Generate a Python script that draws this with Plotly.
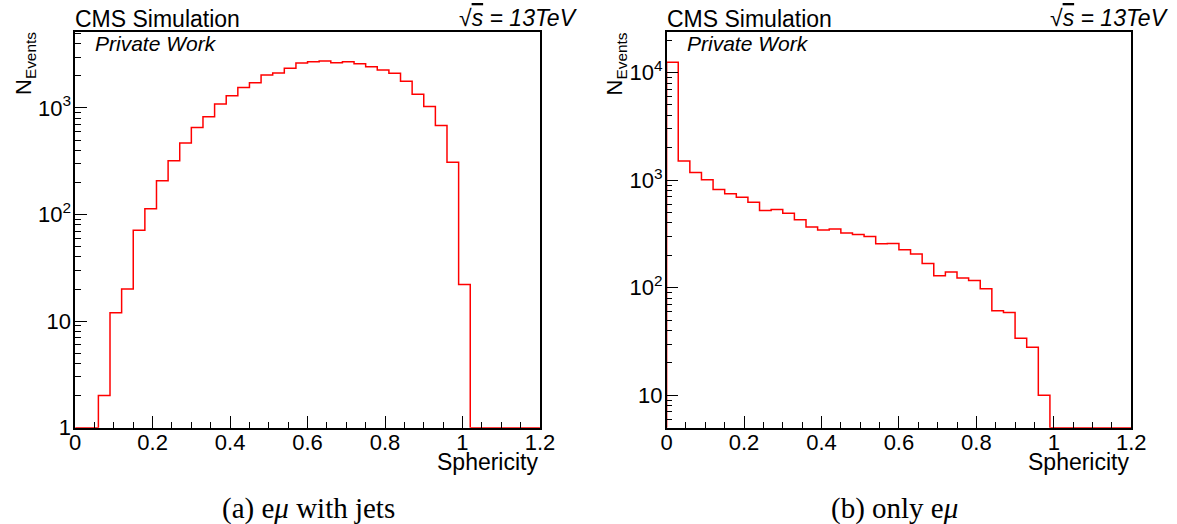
import math
import plotly.graph_objects as go

W, H = 1177, 524          # reference pixel space used for placing things
FIG_W, FIG_H = 1192, 537  # figure size (rendering is scaled to the 1177x524 picture)

# ---- data -------------------------------------------------------------
n_bins = 40
bin_width = 0.03
bin_edges = [round(i * bin_width, 2) for i in range(n_bins + 1)]

# (a) e mu with jets
counts_with_jets = [0, 0, 2, 12, 20, 71, 113, 207, 319, 468,
                    656, 827, 1086, 1302, 1557, 1722, 2031, 2122, 2349, 2636,
                    2716, 2754, 2656, 2716, 2600, 2438, 2265, 2109, 1774, 1340,
                    1033, 685, 310, 22, 0, 0, 0, 0, 0, 0]
# (b) only e mu
counts_only_emu = [12470, 1510, 1177, 1007, 818, 746, 695, 625, 522, 534,
                   494, 428, 368, 345, 351, 322, 313, 299, 256, 258,
                   225, 206, 168, 129, 140, 123, 117, 98, 61, 59,
                   34, 28, 10, 0, 0, 0, 0, 0, 0, 0]

x_tick_vals = [0, 0.2, 0.4, 0.6, 0.8, 1.0, 1.2]
x_tick_text = ["0", "0.2", "0.4", "0.6", "0.8", "1", "1.2"]
y_tick_vals_a = [1, 10, 100, 1000]
y_tick_text_a = ["1", "10", "10<sup>2</sup>", "10<sup>3</sup>"]
y_tick_vals_b = [10, 100, 1000, 10000]
y_tick_text_b = ["10", "10<sup>2</sup>", "10<sup>3</sup>", "10<sup>4</sup>"]

y_min_a, y_max_a = 1.0, 5120.0
y_min_b, y_max_b = 5.0, 23700.0

x_title = "Sphericity"
y_title = "N<sub>Events</sub>"
captions = ["(a) e<i>μ</i> with jets", "(b) only e<i>μ</i>"]

# ---- helpers ---------------------------------------------------------
SANS = "Liberation Sans, Arial, Helvetica, sans-serif"
SERIF = "Liberation Serif, Times New Roman, serif"


def px(x):
    return x / W


def py(y):
    return 1 - y / H


def step_xy(counts, floor):
    ys = [c if c > 0 else floor for c in counts]
    xs = [0.0] + bin_edges
    ys = [floor] + ys + [ys[-1]]
    return xs, ys


def minor_x():
    vals = []
    for i in range(int(round(1.2 / 0.05)) + 1):
        v = round(i * 0.05, 2)
        if abs(v / 0.2 - round(v / 0.2)) > 1e-6:
            vals.append(v)
    return vals


def minor_log(lo, hi):
    vals = []
    d = 10 ** math.floor(math.log10(lo))
    while d < hi:
        for k in range(2, 10):
            v = k * d
            if lo <= v <= hi:
                vals.append(v)
        d *= 10
    return vals


frames = {
    "a": dict(x0=69.5, x1=536.7),
    "b": dict(x0=664.0, x1=1131.0),
}
y_top, y_bot = 32.3, 427.7

fig = go.Figure()

xa, ya = step_xy(counts_with_jets, y_min_a)
xb, yb = step_xy(counts_only_emu, y_min_b)

fig.add_trace(go.Scatter(x=xa, y=ya, mode="lines", line=dict(color="#ff0000", width=1.5, shape="hv"),
                         xaxis="x", yaxis="y", showlegend=False, hoverinfo="skip"))
fig.add_trace(go.Scatter(x=xb, y=yb, mode="lines", line=dict(color="#ff0000", width=1.5, shape="hv"),
                         xaxis="x2", yaxis="y2", showlegend=False, hoverinfo="skip"))

TICK_FS = 22


def xaxis_cfg(frame, anchor):
    return dict(
        domain=[px(frame["x0"]), px(frame["x1"])], anchor=anchor, range=[0, 1.2],
        tickmode="array", tickvals=x_tick_vals, ticktext=x_tick_text,
        ticks="inside", ticklen=12, tickwidth=1, tickcolor="black",
        minor=dict(tickmode="array", tickvals=minor_x(), ticks="inside", ticklen=6,
                   tickwidth=1, tickcolor="black", showgrid=False),
        showline=True, linecolor="black", linewidth=1.5, mirror=True,
        showgrid=False, zeroline=False, ticklabelstandoff=-6,
        tickfont=dict(family=SANS, size=TICK_FS, color="black"),
    )


def yaxis_cfg(anchor, lo, hi, tv, tt):
    return dict(
        domain=[py(y_bot), py(y_top)], anchor=anchor, type="log",
        range=[math.log10(lo), math.log10(hi)],
        tickmode="array", tickvals=tv, ticktext=tt,
        ticks="inside", ticklen=12, tickwidth=1, tickcolor="black",
        minor=dict(tickmode="array", tickvals=minor_log(lo, hi), ticks="inside", ticklen=6,
                   tickwidth=1, tickcolor="black", showgrid=False),
        showline=True, linecolor="black", linewidth=1.5, mirror=True,
        showgrid=False, zeroline=False, ticklabelstandoff=-2,
        tickfont=dict(family=SANS, size=TICK_FS, color="black"),
    )


annotations = []
for key, frame in frames.items():
    x0, x1 = frame["x0"], frame["x1"]
    annotations += [
        dict(text="CMS Simulation", x=px(x0 - 2), y=py(18.7), xanchor="left", yanchor="middle",
             font=dict(family=SANS, size=23, color="black")),
        dict(text="<i>Private Work</i>", x=px(x0 + 18), y=py(43.7), xanchor="left", yanchor="middle",
             font=dict(family=SANS, size=21, color="black")),
        dict(text="<i>√<span style='text-decoration:overline'>s</span> = 13TeV</i>",
             x=px(x1 + 40), y=py(18.2), xanchor="right", yanchor="middle",
             font=dict(family=SANS, size=23, color="black")),
        dict(text=x_title, x=px(x1), y=py(462), xanchor="right", yanchor="middle",
             font=dict(family=SANS, size=23, color="black")),
        dict(text=y_title, x=px(x0 - 67), y=py(30), xanchor="left", yanchor="top", textangle=-90,
             font=dict(family=SANS, size=22, color="black")),
    ]

annotations += [
    dict(text=captions[0], x=px(304), y=py(508), xanchor="center", yanchor="middle",
         font=dict(family=SERIF, size=29, color="black")),
    dict(text=captions[1], x=px(893), y=py(508), xanchor="center", yanchor="middle",
         font=dict(family=SERIF, size=29, color="black")),
]
for a in annotations:
    a.update(xref="paper", yref="paper", showarrow=False)

fig.update_layout(
    width=FIG_W, height=FIG_H, autosize=False, margin=dict(l=0, r=0, t=0, b=0, pad=0),
    paper_bgcolor="white", plot_bgcolor="white",
    xaxis=xaxis_cfg(frames["a"], "y"),
    yaxis=yaxis_cfg("x", y_min_a, y_max_a, y_tick_vals_a, y_tick_text_a),
    xaxis2=xaxis_cfg(frames["b"], "y2"),
    yaxis2=yaxis_cfg("x2", y_min_b, y_max_b, y_tick_vals_b, y_tick_text_b),
    annotations=annotations,
    showlegend=False,
)

fig.write_html("out.html", config={"displayModeBar": False})
